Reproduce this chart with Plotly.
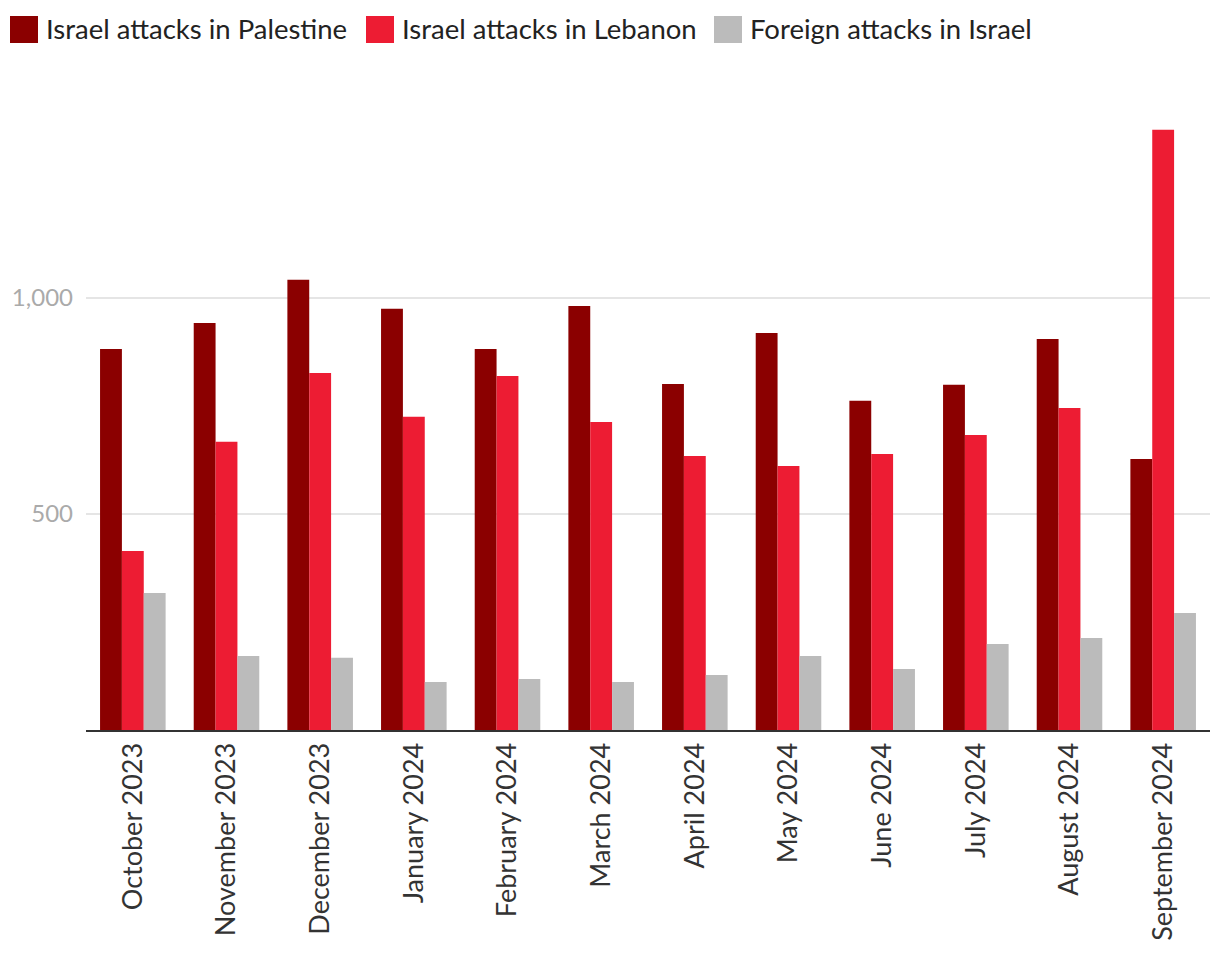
import plotly.graph_objects as go

months = ["October 2023", "November 2023", "December 2023", "January 2024", "February 2024",
          "March 2024", "April 2024", "May 2024", "June 2024", "July 2024", "August 2024",
          "September 2024"]
palestine = [882, 942, 1042, 975, 882, 981, 801, 919, 762, 799, 905, 627]
lebanon = [414, 667, 826, 725, 819, 713, 634, 611, 639, 683, 745, 1389]
foreign = [317, 171, 167, 111, 118, 111, 127, 171, 141, 199, 213, 271]

series_names = ["Israel attacks in Palestine", "Israel attacks in Lebanon", "Foreign attacks in Israel"]
colors = ["#8b0000", "#ed1c33", "#bbbbbb"]

fig = go.Figure()
for name, vals, col in zip(series_names, [palestine, lebanon, foreign], colors):
    fig.add_bar(x=months, y=vals, name=name, marker_color=col, marker_line_width=0)

# plot area geometry (pixels)
L, R, T, B = 86, 10, 100, 230
W, H = 1220, 960
pw, ph = W - L - R, H - T - B

def px_x(p):
    return (p - L) / pw

def px_y(p):
    return (H - B - p) / ph

# manual legend with tall swatches
legend_x = [10, 366, 714]
shapes = []
annotations = []
for lx, name, col in zip(legend_x, series_names, colors):
    shapes.append(dict(type="rect", xref="paper", yref="paper",
                       x0=px_x(lx), x1=px_x(lx + 28), y0=px_y(43), y1=px_y(16),
                       fillcolor=col, line=dict(width=0), layer="above"))
    annotations.append(dict(xref="paper", yref="paper", x=px_x(lx + 34), y=px_y(29),
                            xanchor="left", yanchor="middle", text=name, showarrow=False,
                            font=dict(family="Lato", size=27.5, color="#222222")))

fig.update_layout(
    width=W, height=H,
    margin=dict(l=L, r=R, t=T, b=B),
    barmode="group", bargap=0.3, bargroupgap=0,
    plot_bgcolor="white", paper_bgcolor="white",
    font=dict(family="Lato", color="#333333"),
    showlegend=False,
    shapes=shapes,
    annotations=annotations,
    xaxis=dict(tickangle=-90, tickfont=dict(size=27, color="#333333"), showline=True,
               linecolor="#333333", linewidth=2, ticks="", showgrid=False),
    yaxis=dict(range=[0, 1458], tickvals=[500, 1000], ticktext=["500", "1,000"],
               tickfont=dict(size=24, color="#aaaaaa"), gridcolor="#e5e5e5", gridwidth=1.5,
               zeroline=False, showline=False, ticks="", ticklabelstandoff=12),
)

fig.write_html("out.html")
